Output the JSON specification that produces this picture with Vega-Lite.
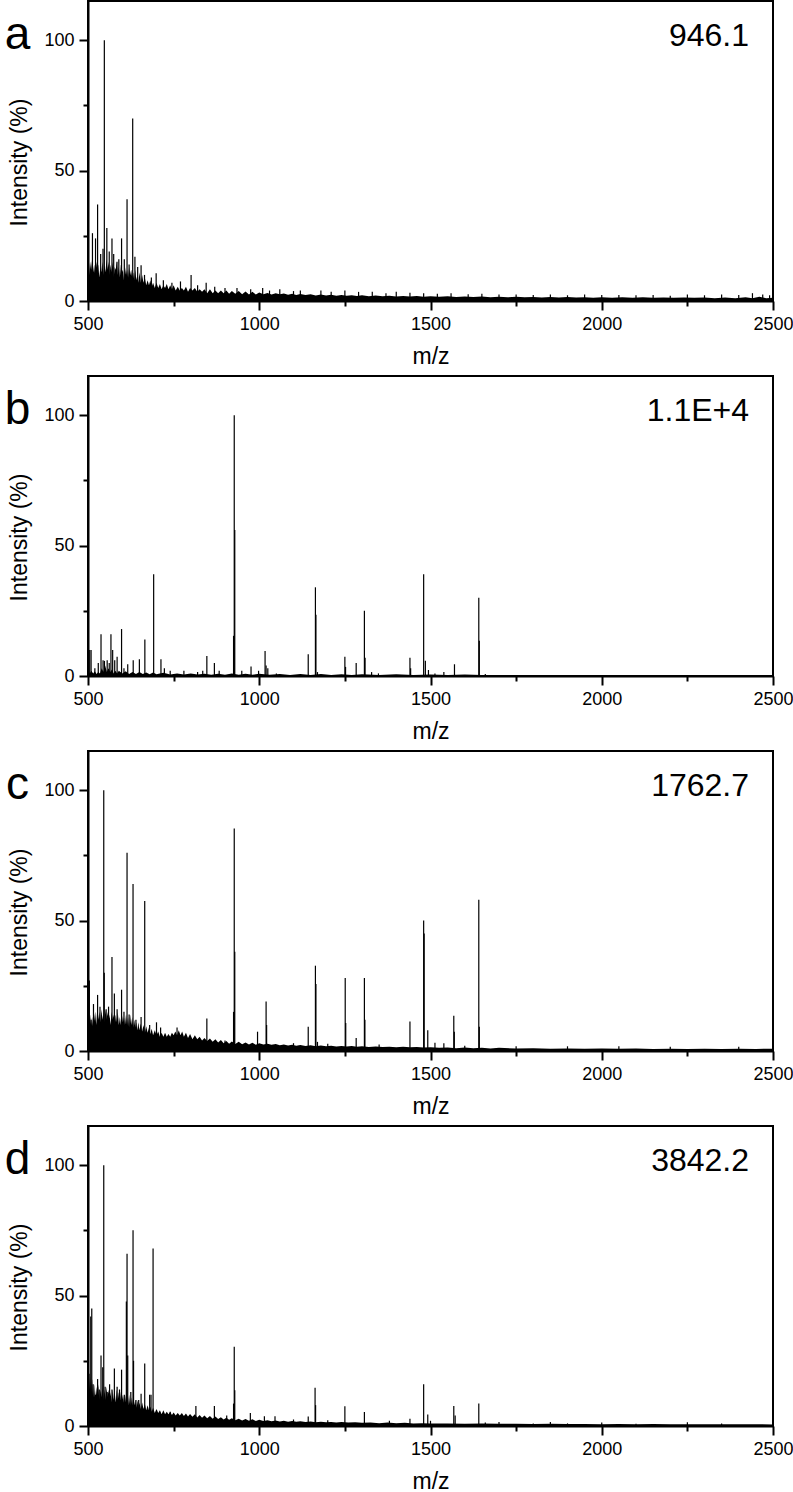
{
"$schema": "https://vega.github.io/schema/vega-lite/v6.json",
"padding": {"left": 3, "top": 0, "right": 0, "bottom": 0},
"background": "white",
"config": {
  "font": "Liberation Sans",
  "view": {"stroke": "black", "strokeWidth": 2},
  "axis": {"domainColor": "black", "domainWidth": 2, "tickColor": "black", "tickWidth": 2, "labelColor": "black", "titleColor": "black", "labelFont": "Liberation Sans", "titleFont": "Liberation Sans", "labelFontSize": 18, "titleFontSize": 23, "titleFontWeight": "normal", "grid": false, "labelPadding": 5},
  "facet": {"spacing": 6}
},
"data": {"values": [
{"p":"a","t":"l","x":294,"y":96.5,"s":"a"},{"p":"b","t":"l","x":294,"y":96.5,"s":"b"},{"p":"c","t":"l","x":294,"y":96.5,"s":"c"},{"p":"d","t":"l","x":294,"y":96.5,"s":"d"},
{"p":"a","t":"v","x":2430,"y":97.7,"s":"946.1"},{"p":"b","t":"v","x":2430,"y":97.7,"s":"1.1E+4"},{"p":"c","t":"v","x":2430,"y":97.7,"s":"1762.7"},{"p":"d","t":"v","x":2430,"y":97.7,"s":"3842.2"},
{"p":"a","t":"p","x":513,"y":26},{"p":"a","t":"p","x":522,"y":24},{"p":"a","t":"p","x":528,"y":37},{"p":"a","t":"p","x":537,"y":18},{"p":"a","t":"p","x":543.8,"y":20},{"p":"a","t":"p","x":547.7,"y":100},{"p":"a","t":"p","x":555,"y":28},{"p":"a","t":"p","x":562,"y":19},{"p":"a","t":"p","x":570,"y":24},{"p":"a","t":"p","x":575,"y":18},{"p":"a","t":"p","x":584.7,"y":15},{"p":"a","t":"p","x":590,"y":16},{"p":"a","t":"p","x":598,"y":24},{"p":"a","t":"p","x":606,"y":16},{"p":"a","t":"p","x":614,"y":39},{"p":"a","t":"p","x":620,"y":14},{"p":"a","t":"p","x":630.5,"y":70},{"p":"a","t":"p","x":637,"y":17},{"p":"a","t":"p","x":645,"y":13},{"p":"a","t":"p","x":655,"y":13.7},{"p":"a","t":"p","x":665,"y":10},{"p":"a","t":"p","x":685,"y":9},{"p":"a","t":"p","x":699,"y":10.6},{"p":"a","t":"p","x":720,"y":8},{"p":"a","t":"p","x":745,"y":7},{"p":"a","t":"p","x":770,"y":7.5},{"p":"a","t":"p","x":801,"y":10},{"p":"a","t":"p","x":820,"y":6},{"p":"a","t":"p","x":845,"y":7},{"p":"a","t":"p","x":870,"y":5.5},{"p":"a","t":"p","x":900,"y":5},{"p":"a","t":"p","x":935,"y":5},{"p":"a","t":"p","x":975,"y":4.5},{"p":"a","t":"p","x":1010,"y":5},{"p":"a","t":"p","x":1030,"y":4},{"p":"a","t":"p","x":1060,"y":4.5},{"p":"a","t":"p","x":1100,"y":3.8},{"p":"a","t":"p","x":1120,"y":4},{"p":"a","t":"p","x":1180,"y":4},{"p":"a","t":"p","x":1210,"y":3.5},{"p":"a","t":"p","x":1250,"y":4},{"p":"a","t":"p","x":1290,"y":3.5},{"p":"a","t":"p","x":1330,"y":3.5},{"p":"a","t":"p","x":1370,"y":3},{"p":"a","t":"p","x":1400,"y":3.5},{"p":"a","t":"p","x":1440,"y":3.2},{"p":"a","t":"p","x":1480,"y":3},{"p":"a","t":"p","x":1520,"y":2.8},{"p":"a","t":"p","x":1560,"y":3},{"p":"a","t":"p","x":1610,"y":2.6},{"p":"a","t":"p","x":1650,"y":2.8},{"p":"a","t":"p","x":1700,"y":2.5},{"p":"a","t":"p","x":1750,"y":2.5},{"p":"a","t":"p","x":1800,"y":2.3},{"p":"a","t":"p","x":1850,"y":2.5},{"p":"a","t":"p","x":1900,"y":2.2},{"p":"a","t":"p","x":1950,"y":2.5},{"p":"a","t":"p","x":2000,"y":2.3},{"p":"a","t":"p","x":2050,"y":2.3},{"p":"a","t":"p","x":2100,"y":2.2},{"p":"a","t":"p","x":2150,"y":2.3},{"p":"a","t":"p","x":2200,"y":2},{"p":"a","t":"p","x":2250,"y":2.5},{"p":"a","t":"p","x":2300,"y":2.2},{"p":"a","t":"p","x":2350,"y":2.5},{"p":"a","t":"p","x":2400,"y":2.3},{"p":"a","t":"p","x":2440,"y":3},{"p":"a","t":"p","x":2470,"y":2.5},{"p":"a","t":"p","x":2490,"y":2.2},
{"p":"b","t":"p","x":505,"y":10},{"p":"b","t":"p","x":509,"y":10},{"p":"b","t":"p","x":520,"y":3},{"p":"b","t":"p","x":530,"y":5},{"p":"b","t":"p","x":538,"y":16},{"p":"b","t":"p","x":544,"y":6},{"p":"b","t":"p","x":548,"y":5.8},{"p":"b","t":"p","x":556,"y":6},{"p":"b","t":"p","x":562,"y":5},{"p":"b","t":"p","x":567,"y":16},{"p":"b","t":"p","x":572,"y":10},{"p":"b","t":"p","x":578,"y":6},{"p":"b","t":"p","x":585,"y":7.4},{"p":"b","t":"p","x":598,"y":18},{"p":"b","t":"p","x":605,"y":3},{"p":"b","t":"p","x":616,"y":4.5},{"p":"b","t":"p","x":632,"y":6},{"p":"b","t":"p","x":650,"y":6.4},{"p":"b","t":"p","x":666,"y":14},{"p":"b","t":"p","x":691.7,"y":39},{"p":"b","t":"p","x":713,"y":6.4},{"p":"b","t":"p","x":723,"y":3},{"p":"b","t":"p","x":740,"y":2},{"p":"b","t":"p","x":780,"y":2},{"p":"b","t":"p","x":820,"y":1.5},{"p":"b","t":"p","x":835,"y":2},{"p":"b","t":"p","x":847,"y":7.7},{"p":"b","t":"p","x":869,"y":5},{"p":"b","t":"p","x":883,"y":2},{"p":"b","t":"p","x":925,"y":15.4},{"p":"b","t":"p","x":927,"y":100},{"p":"b","t":"p","x":928.5,"y":56},{"p":"b","t":"p","x":949,"y":2},{"p":"b","t":"p","x":976,"y":3.6},{"p":"b","t":"p","x":998,"y":2},{"p":"b","t":"p","x":1017,"y":9.6},{"p":"b","t":"p","x":1020,"y":4},{"p":"b","t":"p","x":1025,"y":3},{"p":"b","t":"p","x":1050,"y":1},{"p":"b","t":"p","x":1143,"y":8.3},{"p":"b","t":"p","x":1164,"y":34},{"p":"b","t":"p","x":1165.5,"y":23.5},{"p":"b","t":"p","x":1170,"y":1.5},{"p":"b","t":"p","x":1250,"y":7.4},{"p":"b","t":"p","x":1252,"y":3.5},{"p":"b","t":"p","x":1283,"y":5},{"p":"b","t":"p","x":1307,"y":25},{"p":"b","t":"p","x":1309,"y":7},{"p":"b","t":"p","x":1328,"y":1.5},{"p":"b","t":"p","x":1348,"y":1},{"p":"b","t":"p","x":1440,"y":7},{"p":"b","t":"p","x":1442,"y":3},{"p":"b","t":"p","x":1480,"y":39},{"p":"b","t":"p","x":1485,"y":5.8},{"p":"b","t":"p","x":1494,"y":2.3},{"p":"b","t":"p","x":1513,"y":1},{"p":"b","t":"p","x":1539,"y":1.5},{"p":"b","t":"p","x":1570,"y":4.5},{"p":"b","t":"p","x":1641,"y":30},{"p":"b","t":"p","x":1642.5,"y":13.5},{"p":"b","t":"p","x":1660,"y":0.8},
{"p":"c","t":"p","x":504,"y":27},{"p":"c","t":"p","x":509,"y":12},{"p":"c","t":"p","x":516,"y":18},{"p":"c","t":"p","x":528,"y":21.5},{"p":"c","t":"p","x":535,"y":17},{"p":"c","t":"p","x":546,"y":100},{"p":"c","t":"p","x":547.5,"y":30},{"p":"c","t":"p","x":553,"y":16},{"p":"c","t":"p","x":560,"y":17},{"p":"c","t":"p","x":570,"y":36},{"p":"c","t":"p","x":577,"y":22},{"p":"c","t":"p","x":585,"y":16},{"p":"c","t":"p","x":598,"y":23.5},{"p":"c","t":"p","x":605,"y":15},{"p":"c","t":"p","x":614,"y":76},{"p":"c","t":"p","x":620,"y":14},{"p":"c","t":"p","x":631.5,"y":64},{"p":"c","t":"p","x":640,"y":12},{"p":"c","t":"p","x":655,"y":13},{"p":"c","t":"p","x":665.6,"y":57.5},{"p":"c","t":"p","x":680,"y":10},{"p":"c","t":"p","x":700,"y":11},{"p":"c","t":"p","x":712,"y":9},{"p":"c","t":"p","x":760,"y":9},{"p":"c","t":"p","x":847,"y":12.5},{"p":"c","t":"p","x":900,"y":4},{"p":"c","t":"p","x":925,"y":15},{"p":"c","t":"p","x":927,"y":85.3},{"p":"c","t":"p","x":928.5,"y":38},{"p":"c","t":"p","x":995,"y":7.4},{"p":"c","t":"p","x":1020,"y":19},{"p":"c","t":"p","x":1021.5,"y":10},{"p":"c","t":"p","x":1100,"y":3},{"p":"c","t":"p","x":1143,"y":9.3},{"p":"c","t":"p","x":1164,"y":32.7},{"p":"c","t":"p","x":1165.5,"y":25.7},{"p":"c","t":"p","x":1170,"y":3.5},{"p":"c","t":"p","x":1200,"y":2.8},{"p":"c","t":"p","x":1251,"y":28},{"p":"c","t":"p","x":1252.5,"y":10.7},{"p":"c","t":"p","x":1283,"y":5},{"p":"c","t":"p","x":1307,"y":28},{"p":"c","t":"p","x":1308.5,"y":12},{"p":"c","t":"p","x":1350,"y":2.5},{"p":"c","t":"p","x":1440,"y":11.3},{"p":"c","t":"p","x":1480,"y":50},{"p":"c","t":"p","x":1481.5,"y":45},{"p":"c","t":"p","x":1492,"y":8},{"p":"c","t":"p","x":1513,"y":3.2},{"p":"c","t":"p","x":1539,"y":3},{"p":"c","t":"p","x":1568,"y":13.5},{"p":"c","t":"p","x":1569.5,"y":7.4},{"p":"c","t":"p","x":1600,"y":2},{"p":"c","t":"p","x":1641,"y":58},{"p":"c","t":"p","x":1642.5,"y":9.3},{"p":"c","t":"p","x":1750,"y":1.8},{"p":"c","t":"p","x":1900,"y":1.8},{"p":"c","t":"p","x":2050,"y":1.8},{"p":"c","t":"p","x":2200,"y":1.6},{"p":"c","t":"p","x":2400,"y":1.6},
{"p":"d","t":"p","x":503,"y":20},{"p":"d","t":"p","x":508,"y":42},{"p":"d","t":"p","x":511,"y":45},{"p":"d","t":"p","x":515,"y":16},{"p":"d","t":"p","x":522,"y":12},{"p":"d","t":"p","x":528,"y":18},{"p":"d","t":"p","x":533,"y":14},{"p":"d","t":"p","x":538,"y":27},{"p":"d","t":"p","x":543,"y":22.5},{"p":"d","t":"p","x":546,"y":100},{"p":"d","t":"p","x":550,"y":15},{"p":"d","t":"p","x":556,"y":13},{"p":"d","t":"p","x":563,"y":16},{"p":"d","t":"p","x":570,"y":14},{"p":"d","t":"p","x":577,"y":22},{"p":"d","t":"p","x":585,"y":15},{"p":"d","t":"p","x":592,"y":14},{"p":"d","t":"p","x":598,"y":21.6},{"p":"d","t":"p","x":606,"y":12},{"p":"d","t":"p","x":612,"y":47.7},{"p":"d","t":"p","x":614,"y":66},{"p":"d","t":"p","x":616,"y":27},{"p":"d","t":"p","x":625,"y":13},{"p":"d","t":"p","x":631.5,"y":75},{"p":"d","t":"p","x":633,"y":25},{"p":"d","t":"p","x":640,"y":10},{"p":"d","t":"p","x":648,"y":10},{"p":"d","t":"p","x":655,"y":12.4},{"p":"d","t":"p","x":665.6,"y":24},{"p":"d","t":"p","x":680,"y":12},{"p":"d","t":"p","x":684,"y":12},{"p":"d","t":"p","x":690,"y":68},{"p":"d","t":"p","x":700,"y":6},{"p":"d","t":"p","x":740,"y":5.5},{"p":"d","t":"p","x":815,"y":7.7},{"p":"d","t":"p","x":869,"y":7.7},{"p":"d","t":"p","x":905,"y":4},{"p":"d","t":"p","x":925,"y":8.6},{"p":"d","t":"p","x":927,"y":30.4},{"p":"d","t":"p","x":928.5,"y":13.7},{"p":"d","t":"p","x":974,"y":5},{"p":"d","t":"p","x":1015,"y":3.7},{"p":"d","t":"p","x":1046,"y":3.7},{"p":"d","t":"p","x":1100,"y":2.5},{"p":"d","t":"p","x":1143,"y":3.6},{"p":"d","t":"p","x":1163,"y":14.7},{"p":"d","t":"p","x":1164.5,"y":8},{"p":"d","t":"p","x":1200,"y":2.2},{"p":"d","t":"p","x":1250,"y":7.6},{"p":"d","t":"p","x":1307,"y":5.4},{"p":"d","t":"p","x":1380,"y":2},{"p":"d","t":"p","x":1440,"y":2.8},{"p":"d","t":"p","x":1480,"y":16},{"p":"d","t":"p","x":1492,"y":4.4},{"p":"d","t":"p","x":1500,"y":2},{"p":"d","t":"p","x":1568,"y":7.7},{"p":"d","t":"p","x":1572,"y":4},{"p":"d","t":"p","x":1641,"y":8.6},{"p":"d","t":"p","x":1660,"y":1.3},{"p":"d","t":"p","x":1700,"y":1.5},{"p":"d","t":"p","x":1800,"y":1},{"p":"d","t":"p","x":1850,"y":1.5},{"p":"d","t":"p","x":1900,"y":1},{"p":"d","t":"p","x":2000,"y":1.3},{"p":"d","t":"p","x":2100,"y":0.9},{"p":"d","t":"p","x":2250,"y":1.4},{"p":"d","t":"p","x":2350,"y":1},
{"p":"a","t":"n","x":500,"y":14},{"p":"a","t":"n","x":503,"y":10},{"p":"a","t":"n","x":506,"y":15},{"p":"a","t":"n","x":509,"y":12},{"p":"a","t":"n","x":512,"y":16},{"p":"a","t":"n","x":515,"y":11},{"p":"a","t":"n","x":518,"y":14},{"p":"a","t":"n","x":521,"y":10},{"p":"a","t":"n","x":524,"y":15},{"p":"a","t":"n","x":527,"y":12},{"p":"a","t":"n","x":530,"y":14},{"p":"a","t":"n","x":533,"y":9},{"p":"a","t":"n","x":536,"y":13},{"p":"a","t":"n","x":539,"y":11},{"p":"a","t":"n","x":542,"y":15},{"p":"a","t":"n","x":545,"y":10},{"p":"a","t":"n","x":548,"y":14},{"p":"a","t":"n","x":551,"y":11},{"p":"a","t":"n","x":554,"y":16},{"p":"a","t":"n","x":557,"y":12},{"p":"a","t":"n","x":560,"y":15},{"p":"a","t":"n","x":563,"y":10},{"p":"a","t":"n","x":566,"y":14},{"p":"a","t":"n","x":569,"y":11},{"p":"a","t":"n","x":572,"y":15},{"p":"a","t":"n","x":575,"y":9},{"p":"a","t":"n","x":578,"y":13},{"p":"a","t":"n","x":581,"y":12},{"p":"a","t":"n","x":584,"y":15},{"p":"a","t":"n","x":587,"y":10},{"p":"a","t":"n","x":590,"y":13},{"p":"a","t":"n","x":593,"y":9},{"p":"a","t":"n","x":596,"y":14},{"p":"a","t":"n","x":599,"y":11},{"p":"a","t":"n","x":602,"y":12},{"p":"a","t":"n","x":605,"y":8},{"p":"a","t":"n","x":608,"y":13},{"p":"a","t":"n","x":611,"y":10},{"p":"a","t":"n","x":614,"y":12},{"p":"a","t":"n","x":617,"y":9},{"p":"a","t":"n","x":620,"y":13},{"p":"a","t":"n","x":623,"y":10},{"p":"a","t":"n","x":626,"y":12},{"p":"a","t":"n","x":629,"y":9},{"p":"a","t":"n","x":632,"y":11},{"p":"a","t":"n","x":635,"y":8},{"p":"a","t":"n","x":638,"y":12},{"p":"a","t":"n","x":641,"y":8},{"p":"a","t":"n","x":644,"y":10},{"p":"a","t":"n","x":647,"y":7},{"p":"a","t":"n","x":650,"y":11},{"p":"a","t":"n","x":654,"y":7},{"p":"a","t":"n","x":658,"y":10},{"p":"a","t":"n","x":662,"y":7},{"p":"a","t":"n","x":666,"y":9},{"p":"a","t":"n","x":670,"y":6},{"p":"a","t":"n","x":674,"y":8},{"p":"a","t":"n","x":678,"y":6},{"p":"a","t":"n","x":682,"y":8},{"p":"a","t":"n","x":686,"y":5.5},{"p":"a","t":"n","x":690,"y":7},{"p":"a","t":"n","x":695,"y":5},{"p":"a","t":"n","x":700,"y":7},{"p":"a","t":"n","x":705,"y":5},{"p":"a","t":"n","x":710,"y":6.5},{"p":"a","t":"n","x":715,"y":4.5},{"p":"a","t":"n","x":720,"y":6},{"p":"a","t":"n","x":725,"y":5},{"p":"a","t":"n","x":730,"y":6.5},{"p":"a","t":"n","x":735,"y":4.5},{"p":"a","t":"n","x":740,"y":6},{"p":"a","t":"n","x":745,"y":4.5},{"p":"a","t":"n","x":750,"y":6},{"p":"a","t":"n","x":756,"y":4},{"p":"a","t":"n","x":762,"y":5.5},{"p":"a","t":"n","x":768,"y":4},{"p":"a","t":"n","x":774,"y":5},{"p":"a","t":"n","x":780,"y":4},{"p":"a","t":"n","x":786,"y":5.5},{"p":"a","t":"n","x":792,"y":3.5},{"p":"a","t":"n","x":798,"y":5},{"p":"a","t":"n","x":805,"y":4},{"p":"a","t":"n","x":812,"y":5},{"p":"a","t":"n","x":819,"y":3.5},{"p":"a","t":"n","x":826,"y":4.5},{"p":"a","t":"n","x":833,"y":3.5},{"p":"a","t":"n","x":840,"y":4.5},{"p":"a","t":"n","x":848,"y":3},{"p":"a","t":"n","x":856,"y":4.5},{"p":"a","t":"n","x":864,"y":3},{"p":"a","t":"n","x":872,"y":4},{"p":"a","t":"n","x":880,"y":3},{"p":"a","t":"n","x":888,"y":4},{"p":"a","t":"n","x":896,"y":3},{"p":"a","t":"n","x":904,"y":4},{"p":"a","t":"n","x":912,"y":2.8},{"p":"a","t":"n","x":920,"y":3.8},{"p":"a","t":"n","x":930,"y":2.8},{"p":"a","t":"n","x":940,"y":3.8},{"p":"a","t":"n","x":950,"y":2.6},{"p":"a","t":"n","x":960,"y":3.6},{"p":"a","t":"n","x":970,"y":2.5},{"p":"a","t":"n","x":980,"y":3.5},{"p":"a","t":"n","x":990,"y":2.5},
{"p":"a","t":"n","x":1000,"y":3.3},{"p":"a","t":"n","x":1012,"y":2.6},{"p":"a","t":"n","x":1024,"y":3.1},{"p":"a","t":"n","x":1036,"y":2.5},{"p":"a","t":"n","x":1048,"y":3},{"p":"a","t":"n","x":1060,"y":2.6},{"p":"a","t":"n","x":1072,"y":2.9},{"p":"a","t":"n","x":1084,"y":2.4},{"p":"a","t":"n","x":1096,"y":2.8},{"p":"a","t":"n","x":1108,"y":2.3},{"p":"a","t":"n","x":1120,"y":2.7},{"p":"a","t":"n","x":1135,"y":2.3},{"p":"a","t":"n","x":1150,"y":2.6},{"p":"a","t":"n","x":1165,"y":2.1},{"p":"a","t":"n","x":1180,"y":2.5},{"p":"a","t":"n","x":1195,"y":2.1},{"p":"a","t":"n","x":1210,"y":2.4},{"p":"a","t":"n","x":1225,"y":2},{"p":"a","t":"n","x":1240,"y":2.3},{"p":"a","t":"n","x":1255,"y":2},{"p":"a","t":"n","x":1270,"y":2.2},{"p":"a","t":"n","x":1285,"y":1.9},{"p":"a","t":"n","x":1300,"y":2.2},{"p":"a","t":"n","x":1320,"y":1.8},{"p":"a","t":"n","x":1340,"y":2.1},{"p":"a","t":"n","x":1360,"y":1.8},{"p":"a","t":"n","x":1380,"y":2},{"p":"a","t":"n","x":1400,"y":1.7},{"p":"a","t":"n","x":1420,"y":1.9},{"p":"a","t":"n","x":1440,"y":1.7},{"p":"a","t":"n","x":1460,"y":1.9},{"p":"a","t":"n","x":1480,"y":1.6},{"p":"a","t":"n","x":1500,"y":1.8},{"p":"a","t":"n","x":1525,"y":1.6},{"p":"a","t":"n","x":1550,"y":1.8},{"p":"a","t":"n","x":1575,"y":1.5},{"p":"a","t":"n","x":1600,"y":1.7},{"p":"a","t":"n","x":1625,"y":1.5},{"p":"a","t":"n","x":1650,"y":1.7},{"p":"a","t":"n","x":1675,"y":1.4},{"p":"a","t":"n","x":1700,"y":1.6},{"p":"a","t":"n","x":1725,"y":1.4},{"p":"a","t":"n","x":1750,"y":1.6},{"p":"a","t":"n","x":1775,"y":1.4},{"p":"a","t":"n","x":1800,"y":1.5},{"p":"a","t":"n","x":1825,"y":1.3},{"p":"a","t":"n","x":1850,"y":1.5},{"p":"a","t":"n","x":1875,"y":1.3},{"p":"a","t":"n","x":1900,"y":1.5},{"p":"a","t":"n","x":1925,"y":1.3},{"p":"a","t":"n","x":1950,"y":1.4},{"p":"a","t":"n","x":1975,"y":1.2},{"p":"a","t":"n","x":2000,"y":1.4},{"p":"a","t":"n","x":2030,"y":1.2},{"p":"a","t":"n","x":2060,"y":1.4},{"p":"a","t":"n","x":2090,"y":1.2},{"p":"a","t":"n","x":2120,"y":1.4},{"p":"a","t":"n","x":2150,"y":1.2},{"p":"a","t":"n","x":2180,"y":1.3},{"p":"a","t":"n","x":2210,"y":1.2},{"p":"a","t":"n","x":2240,"y":1.3},{"p":"a","t":"n","x":2270,"y":1.2},{"p":"a","t":"n","x":2300,"y":1.3},{"p":"a","t":"n","x":2330,"y":1.1},{"p":"a","t":"n","x":2360,"y":1.3},{"p":"a","t":"n","x":2390,"y":1.1},{"p":"a","t":"n","x":2420,"y":1.4},{"p":"a","t":"n","x":2440,"y":1.1},{"p":"a","t":"n","x":2460,"y":1.6},{"p":"a","t":"n","x":2480,"y":1.1},{"p":"a","t":"n","x":2500,"y":1.2},
{"p":"b","t":"n","x":500,"y":2},{"p":"b","t":"n","x":505,"y":1},{"p":"b","t":"n","x":510,"y":2},{"p":"b","t":"n","x":515,"y":1},{"p":"b","t":"n","x":520,"y":1.8},{"p":"b","t":"n","x":525,"y":0.8},{"p":"b","t":"n","x":530,"y":1.5},{"p":"b","t":"n","x":535,"y":1},{"p":"b","t":"n","x":540,"y":3},{"p":"b","t":"n","x":545,"y":1.5},{"p":"b","t":"n","x":550,"y":4},{"p":"b","t":"n","x":555,"y":1.5},{"p":"b","t":"n","x":560,"y":3},{"p":"b","t":"n","x":565,"y":1.5},{"p":"b","t":"n","x":570,"y":2.5},{"p":"b","t":"n","x":575,"y":1},{"p":"b","t":"n","x":580,"y":2},{"p":"b","t":"n","x":585,"y":1},{"p":"b","t":"n","x":590,"y":2},{"p":"b","t":"n","x":600,"y":1},{"p":"b","t":"n","x":610,"y":1.8},{"p":"b","t":"n","x":620,"y":0.8},{"p":"b","t":"n","x":630,"y":1.5},{"p":"b","t":"n","x":640,"y":0.8},{"p":"b","t":"n","x":650,"y":1.5},{"p":"b","t":"n","x":660,"y":0.8},{"p":"b","t":"n","x":670,"y":1.3},{"p":"b","t":"n","x":680,"y":0.7},{"p":"b","t":"n","x":690,"y":1.3},{"p":"b","t":"n","x":700,"y":0.7},{"p":"b","t":"n","x":720,"y":1.2},{"p":"b","t":"n","x":740,"y":0.6},{"p":"b","t":"n","x":760,"y":1},{"p":"b","t":"n","x":780,"y":0.6},{"p":"b","t":"n","x":800,"y":1},{"p":"b","t":"n","x":820,"y":0.6},{"p":"b","t":"n","x":840,"y":0.9},{"p":"b","t":"n","x":860,"y":0.5},{"p":"b","t":"n","x":880,"y":0.9},{"p":"b","t":"n","x":900,"y":0.5},{"p":"b","t":"n","x":920,"y":1},{"p":"b","t":"n","x":940,"y":0.5},{"p":"b","t":"n","x":960,"y":0.9},{"p":"b","t":"n","x":980,"y":0.5},{"p":"b","t":"n","x":1000,"y":0.9},{"p":"b","t":"n","x":1030,"y":0.5},{"p":"b","t":"n","x":1060,"y":0.8},{"p":"b","t":"n","x":1090,"y":0.4},{"p":"b","t":"n","x":1120,"y":0.8},{"p":"b","t":"n","x":1150,"y":0.4},{"p":"b","t":"n","x":1180,"y":0.8},{"p":"b","t":"n","x":1210,"y":0.4},{"p":"b","t":"n","x":1240,"y":0.7},{"p":"b","t":"n","x":1270,"y":0.4},{"p":"b","t":"n","x":1300,"y":0.7},{"p":"b","t":"n","x":1350,"y":0.4},{"p":"b","t":"n","x":1400,"y":0.7},{"p":"b","t":"n","x":1450,"y":0.4},{"p":"b","t":"n","x":1500,"y":0.6},{"p":"b","t":"n","x":1550,"y":0.4},{"p":"b","t":"n","x":1600,"y":0.6},{"p":"b","t":"n","x":1650,"y":0.4},{"p":"b","t":"n","x":1700,"y":0.4},{"p":"b","t":"n","x":1800,"y":0.3},{"p":"b","t":"n","x":1900,"y":0.3},{"p":"b","t":"n","x":2000,"y":0.3},{"p":"b","t":"n","x":2100,"y":0.3},{"p":"b","t":"n","x":2200,"y":0.3},{"p":"b","t":"n","x":2300,"y":0.3},{"p":"b","t":"n","x":2400,"y":0.3},{"p":"b","t":"n","x":2500,"y":0.3},
{"p":"c","t":"n","x":500,"y":16},{"p":"c","t":"n","x":503,"y":11},{"p":"c","t":"n","x":506,"y":14},{"p":"c","t":"n","x":509,"y":10},{"p":"c","t":"n","x":512,"y":13},{"p":"c","t":"n","x":515,"y":9},{"p":"c","t":"n","x":518,"y":12},{"p":"c","t":"n","x":521,"y":15},{"p":"c","t":"n","x":524,"y":10},{"p":"c","t":"n","x":527,"y":16},{"p":"c","t":"n","x":530,"y":12},{"p":"c","t":"n","x":533,"y":15},{"p":"c","t":"n","x":536,"y":11},{"p":"c","t":"n","x":539,"y":16},{"p":"c","t":"n","x":542,"y":12},{"p":"c","t":"n","x":545,"y":15},{"p":"c","t":"n","x":548,"y":11},{"p":"c","t":"n","x":551,"y":16},{"p":"c","t":"n","x":554,"y":12},{"p":"c","t":"n","x":557,"y":15},{"p":"c","t":"n","x":560,"y":11},{"p":"c","t":"n","x":563,"y":14},{"p":"c","t":"n","x":566,"y":10},{"p":"c","t":"n","x":569,"y":15},{"p":"c","t":"n","x":572,"y":12},{"p":"c","t":"n","x":575,"y":14},{"p":"c","t":"n","x":578,"y":10},{"p":"c","t":"n","x":581,"y":14},{"p":"c","t":"n","x":584,"y":11},{"p":"c","t":"n","x":587,"y":15},{"p":"c","t":"n","x":590,"y":10},{"p":"c","t":"n","x":593,"y":13},{"p":"c","t":"n","x":596,"y":10},{"p":"c","t":"n","x":599,"y":14},{"p":"c","t":"n","x":602,"y":11},{"p":"c","t":"n","x":605,"y":13},{"p":"c","t":"n","x":608,"y":10},{"p":"c","t":"n","x":611,"y":14},{"p":"c","t":"n","x":614,"y":10},{"p":"c","t":"n","x":617,"y":13},{"p":"c","t":"n","x":620,"y":9},{"p":"c","t":"n","x":623,"y":14},{"p":"c","t":"n","x":626,"y":10},{"p":"c","t":"n","x":629,"y":13},{"p":"c","t":"n","x":632,"y":9},{"p":"c","t":"n","x":635,"y":12},{"p":"c","t":"n","x":638,"y":9},{"p":"c","t":"n","x":641,"y":11},{"p":"c","t":"n","x":644,"y":8},{"p":"c","t":"n","x":647,"y":11},{"p":"c","t":"n","x":650,"y":8},{"p":"c","t":"n","x":654,"y":10.5},{"p":"c","t":"n","x":658,"y":7.5},{"p":"c","t":"n","x":662,"y":10},{"p":"c","t":"n","x":666,"y":7},{"p":"c","t":"n","x":670,"y":9.5},{"p":"c","t":"n","x":674,"y":7},{"p":"c","t":"n","x":678,"y":9},{"p":"c","t":"n","x":682,"y":6.5},{"p":"c","t":"n","x":686,"y":8.5},{"p":"c","t":"n","x":690,"y":6},{"p":"c","t":"n","x":695,"y":8},{"p":"c","t":"n","x":700,"y":6},{"p":"c","t":"n","x":705,"y":7.5},{"p":"c","t":"n","x":710,"y":5.5},{"p":"c","t":"n","x":715,"y":7},{"p":"c","t":"n","x":720,"y":5.5},{"p":"c","t":"n","x":725,"y":7},{"p":"c","t":"n","x":730,"y":5.5},{"p":"c","t":"n","x":735,"y":6.5},{"p":"c","t":"n","x":740,"y":5.5},{"p":"c","t":"n","x":745,"y":7},{"p":"c","t":"n","x":750,"y":6},{"p":"c","t":"n","x":755,"y":7.5},{"p":"c","t":"n","x":760,"y":6},{"p":"c","t":"n","x":765,"y":8},{"p":"c","t":"n","x":770,"y":6},{"p":"c","t":"n","x":775,"y":7.5},{"p":"c","t":"n","x":780,"y":5.5},{"p":"c","t":"n","x":786,"y":7},{"p":"c","t":"n","x":792,"y":5},{"p":"c","t":"n","x":798,"y":6.5},{"p":"c","t":"n","x":805,"y":4.5},{"p":"c","t":"n","x":812,"y":6},{"p":"c","t":"n","x":819,"y":4.5},{"p":"c","t":"n","x":826,"y":5.5},{"p":"c","t":"n","x":833,"y":4},{"p":"c","t":"n","x":840,"y":5},{"p":"c","t":"n","x":848,"y":3.8},{"p":"c","t":"n","x":856,"y":4.8},{"p":"c","t":"n","x":864,"y":3.5},{"p":"c","t":"n","x":872,"y":4.5},{"p":"c","t":"n","x":880,"y":3.3},{"p":"c","t":"n","x":888,"y":4.2},{"p":"c","t":"n","x":896,"y":3},{"p":"c","t":"n","x":904,"y":3.8},{"p":"c","t":"n","x":912,"y":2.8},{"p":"c","t":"n","x":920,"y":3.6},{"p":"c","t":"n","x":930,"y":2.7},{"p":"c","t":"n","x":940,"y":3.5},{"p":"c","t":"n","x":950,"y":2.6},{"p":"c","t":"n","x":960,"y":3.3},{"p":"c","t":"n","x":970,"y":2.5},{"p":"c","t":"n","x":980,"y":3.2},{"p":"c","t":"n","x":990,"y":2.4},
{"p":"c","t":"n","x":1000,"y":3},{"p":"c","t":"n","x":1012,"y":2.5},{"p":"c","t":"n","x":1024,"y":2.8},{"p":"c","t":"n","x":1036,"y":2.4},{"p":"c","t":"n","x":1048,"y":2.7},{"p":"c","t":"n","x":1060,"y":2.2},{"p":"c","t":"n","x":1072,"y":2.5},{"p":"c","t":"n","x":1084,"y":2.1},{"p":"c","t":"n","x":1096,"y":2.4},{"p":"c","t":"n","x":1108,"y":2},{"p":"c","t":"n","x":1120,"y":2.3},{"p":"c","t":"n","x":1135,"y":1.9},{"p":"c","t":"n","x":1150,"y":2.2},{"p":"c","t":"n","x":1165,"y":1.8},{"p":"c","t":"n","x":1180,"y":2.1},{"p":"c","t":"n","x":1195,"y":1.8},{"p":"c","t":"n","x":1210,"y":2},{"p":"c","t":"n","x":1225,"y":1.7},{"p":"c","t":"n","x":1240,"y":1.9},{"p":"c","t":"n","x":1255,"y":1.7},{"p":"c","t":"n","x":1270,"y":1.9},{"p":"c","t":"n","x":1285,"y":1.6},{"p":"c","t":"n","x":1300,"y":1.8},{"p":"c","t":"n","x":1320,"y":1.5},{"p":"c","t":"n","x":1340,"y":1.7},{"p":"c","t":"n","x":1360,"y":1.5},{"p":"c","t":"n","x":1380,"y":1.6},{"p":"c","t":"n","x":1400,"y":1.4},{"p":"c","t":"n","x":1420,"y":1.6},{"p":"c","t":"n","x":1440,"y":1.4},{"p":"c","t":"n","x":1460,"y":1.5},{"p":"c","t":"n","x":1480,"y":1.3},{"p":"c","t":"n","x":1500,"y":1.4},{"p":"c","t":"n","x":1525,"y":1.2},{"p":"c","t":"n","x":1550,"y":1.3},{"p":"c","t":"n","x":1575,"y":1.1},{"p":"c","t":"n","x":1600,"y":1.3},{"p":"c","t":"n","x":1625,"y":1.1},{"p":"c","t":"n","x":1650,"y":1.2},{"p":"c","t":"n","x":1675,"y":1},{"p":"c","t":"n","x":1700,"y":1.2},{"p":"c","t":"n","x":1750,"y":1},{"p":"c","t":"n","x":1800,"y":1.1},{"p":"c","t":"n","x":1850,"y":0.9},{"p":"c","t":"n","x":1900,"y":1},{"p":"c","t":"n","x":1950,"y":0.9},{"p":"c","t":"n","x":2000,"y":1},{"p":"c","t":"n","x":2050,"y":0.9},{"p":"c","t":"n","x":2100,"y":1},{"p":"c","t":"n","x":2150,"y":0.8},{"p":"c","t":"n","x":2200,"y":0.9},{"p":"c","t":"n","x":2250,"y":0.8},{"p":"c","t":"n","x":2300,"y":0.9},{"p":"c","t":"n","x":2350,"y":0.8},{"p":"c","t":"n","x":2400,"y":0.9},{"p":"c","t":"n","x":2450,"y":0.8},{"p":"c","t":"n","x":2500,"y":0.9},
{"p":"d","t":"n","x":500,"y":20},{"p":"d","t":"n","x":503,"y":14},{"p":"d","t":"n","x":506,"y":19},{"p":"d","t":"n","x":509,"y":13},{"p":"d","t":"n","x":512,"y":18},{"p":"d","t":"n","x":515,"y":11},{"p":"d","t":"n","x":518,"y":16},{"p":"d","t":"n","x":521,"y":10},{"p":"d","t":"n","x":524,"y":15},{"p":"d","t":"n","x":527,"y":11},{"p":"d","t":"n","x":530,"y":16},{"p":"d","t":"n","x":533,"y":10},{"p":"d","t":"n","x":536,"y":14},{"p":"d","t":"n","x":539,"y":11},{"p":"d","t":"n","x":542,"y":15},{"p":"d","t":"n","x":545,"y":10},{"p":"d","t":"n","x":548,"y":14},{"p":"d","t":"n","x":551,"y":10},{"p":"d","t":"n","x":554,"y":15},{"p":"d","t":"n","x":557,"y":11},{"p":"d","t":"n","x":560,"y":14},{"p":"d","t":"n","x":563,"y":10},{"p":"d","t":"n","x":566,"y":13},{"p":"d","t":"n","x":569,"y":9},{"p":"d","t":"n","x":572,"y":14},{"p":"d","t":"n","x":575,"y":10},{"p":"d","t":"n","x":578,"y":13},{"p":"d","t":"n","x":581,"y":9},{"p":"d","t":"n","x":584,"y":14},{"p":"d","t":"n","x":587,"y":10},{"p":"d","t":"n","x":590,"y":13},{"p":"d","t":"n","x":593,"y":9},{"p":"d","t":"n","x":596,"y":13},{"p":"d","t":"n","x":599,"y":10},{"p":"d","t":"n","x":602,"y":12},{"p":"d","t":"n","x":605,"y":9},{"p":"d","t":"n","x":608,"y":12},{"p":"d","t":"n","x":611,"y":9},{"p":"d","t":"n","x":614,"y":11},{"p":"d","t":"n","x":617,"y":8},{"p":"d","t":"n","x":620,"y":12},{"p":"d","t":"n","x":623,"y":8},{"p":"d","t":"n","x":626,"y":11},{"p":"d","t":"n","x":629,"y":8},{"p":"d","t":"n","x":632,"y":11},{"p":"d","t":"n","x":635,"y":8},{"p":"d","t":"n","x":638,"y":10},{"p":"d","t":"n","x":641,"y":7},{"p":"d","t":"n","x":644,"y":10},{"p":"d","t":"n","x":647,"y":7},{"p":"d","t":"n","x":650,"y":9},{"p":"d","t":"n","x":654,"y":6.5},{"p":"d","t":"n","x":658,"y":9},{"p":"d","t":"n","x":662,"y":6.5},{"p":"d","t":"n","x":666,"y":8.5},{"p":"d","t":"n","x":670,"y":6},{"p":"d","t":"n","x":674,"y":8},{"p":"d","t":"n","x":678,"y":6},{"p":"d","t":"n","x":682,"y":7.5},{"p":"d","t":"n","x":686,"y":5.5},{"p":"d","t":"n","x":690,"y":7},{"p":"d","t":"n","x":695,"y":5},{"p":"d","t":"n","x":700,"y":6.5},{"p":"d","t":"n","x":705,"y":5},{"p":"d","t":"n","x":710,"y":6},{"p":"d","t":"n","x":715,"y":4.5},{"p":"d","t":"n","x":720,"y":6},{"p":"d","t":"n","x":725,"y":4.5},{"p":"d","t":"n","x":730,"y":5.5},{"p":"d","t":"n","x":735,"y":4.5},{"p":"d","t":"n","x":740,"y":5.5},{"p":"d","t":"n","x":745,"y":4.2},{"p":"d","t":"n","x":750,"y":5.2},{"p":"d","t":"n","x":756,"y":4},{"p":"d","t":"n","x":762,"y":5},{"p":"d","t":"n","x":768,"y":4},{"p":"d","t":"n","x":774,"y":5},{"p":"d","t":"n","x":780,"y":3.8},{"p":"d","t":"n","x":786,"y":4.8},{"p":"d","t":"n","x":792,"y":3.6},{"p":"d","t":"n","x":798,"y":4.6},{"p":"d","t":"n","x":805,"y":3.5},{"p":"d","t":"n","x":812,"y":4.5},{"p":"d","t":"n","x":819,"y":3.3},{"p":"d","t":"n","x":826,"y":4.2},{"p":"d","t":"n","x":833,"y":3.2},{"p":"d","t":"n","x":840,"y":4},{"p":"d","t":"n","x":848,"y":3},{"p":"d","t":"n","x":856,"y":3.8},{"p":"d","t":"n","x":864,"y":2.8},{"p":"d","t":"n","x":872,"y":3.6},{"p":"d","t":"n","x":880,"y":2.7},{"p":"d","t":"n","x":888,"y":3.4},{"p":"d","t":"n","x":896,"y":2.5},{"p":"d","t":"n","x":904,"y":3.2},{"p":"d","t":"n","x":912,"y":2.4},{"p":"d","t":"n","x":920,"y":3},{"p":"d","t":"n","x":930,"y":2.2},{"p":"d","t":"n","x":940,"y":2.8},{"p":"d","t":"n","x":950,"y":2.1},{"p":"d","t":"n","x":960,"y":2.7},{"p":"d","t":"n","x":970,"y":2},{"p":"d","t":"n","x":980,"y":2.6},{"p":"d","t":"n","x":990,"y":1.9},
{"p":"d","t":"n","x":1000,"y":2.4},{"p":"d","t":"n","x":1012,"y":1.9},{"p":"d","t":"n","x":1024,"y":2.2},{"p":"d","t":"n","x":1036,"y":1.8},{"p":"d","t":"n","x":1048,"y":2.1},{"p":"d","t":"n","x":1060,"y":1.7},{"p":"d","t":"n","x":1072,"y":2},{"p":"d","t":"n","x":1084,"y":1.6},{"p":"d","t":"n","x":1096,"y":1.9},{"p":"d","t":"n","x":1108,"y":1.6},{"p":"d","t":"n","x":1120,"y":1.8},{"p":"d","t":"n","x":1135,"y":1.5},{"p":"d","t":"n","x":1150,"y":1.7},{"p":"d","t":"n","x":1165,"y":1.4},{"p":"d","t":"n","x":1180,"y":1.6},{"p":"d","t":"n","x":1195,"y":1.4},{"p":"d","t":"n","x":1210,"y":1.5},{"p":"d","t":"n","x":1225,"y":1.3},{"p":"d","t":"n","x":1240,"y":1.5},{"p":"d","t":"n","x":1260,"y":1.3},{"p":"d","t":"n","x":1280,"y":1.4},{"p":"d","t":"n","x":1300,"y":1.2},{"p":"d","t":"n","x":1325,"y":1.3},{"p":"d","t":"n","x":1350,"y":1.1},{"p":"d","t":"n","x":1375,"y":1.3},{"p":"d","t":"n","x":1400,"y":1.1},{"p":"d","t":"n","x":1425,"y":1.2},{"p":"d","t":"n","x":1450,"y":1},{"p":"d","t":"n","x":1475,"y":1.1},{"p":"d","t":"n","x":1500,"y":1},{"p":"d","t":"n","x":1550,"y":1},{"p":"d","t":"n","x":1600,"y":0.9},{"p":"d","t":"n","x":1650,"y":1},{"p":"d","t":"n","x":1700,"y":0.9},{"p":"d","t":"n","x":1750,"y":0.9},{"p":"d","t":"n","x":1800,"y":0.8},{"p":"d","t":"n","x":1850,"y":0.9},{"p":"d","t":"n","x":1900,"y":0.8},{"p":"d","t":"n","x":1950,"y":0.8},{"p":"d","t":"n","x":2000,"y":0.7},{"p":"d","t":"n","x":2050,"y":0.8},{"p":"d","t":"n","x":2100,"y":0.7},{"p":"d","t":"n","x":2150,"y":0.8},{"p":"d","t":"n","x":2200,"y":0.7},{"p":"d","t":"n","x":2250,"y":0.7},{"p":"d","t":"n","x":2300,"y":0.7},{"p":"d","t":"n","x":2350,"y":0.7},{"p":"d","t":"n","x":2400,"y":0.7},{"p":"d","t":"n","x":2450,"y":0.7},{"p":"d","t":"n","x":2500,"y":0.6}
]},
"facet": {"row": {"field": "p", "type": "nominal", "title": null, "header": {"labels": false, "title": null}}},
"resolve": {"axis": {"x": "independent", "y": "independent"}},
"spec": {
  "width": 685,
  "height": 300,
  "encoding": {
    "x": {"field": "x", "type": "quantitative", "scale": {"domain": [500, 2500], "nice": false, "zero": false},
      "axis": {"title": "m/z", "titlePadding": 12, "values": [500, 750, 1000, 1250, 1500, 1750, 2000, 2250, 2500], "labelExpr": "datum.value % 500 === 0 ? datum.label : ''", "labelFlush": false, "labelOverlap": false, "tickSize": {"condition": {"test": "datum.value % 500 === 0", "value": 9}, "value": 5}, "format": "d"}},
    "y": {"field": "y", "type": "quantitative", "scale": {"domain": [0, 115], "nice": false},
      "axis": {"title": "Intensity (%)", "titlePadding": 12, "titleY": 161, "values": [0, 25, 50, 75, 100], "labelExpr": "datum.value % 50 === 0 ? datum.label : ''", "labelFlush": false, "labelOverlap": false, "tickSize": {"condition": {"test": "datum.value % 50 === 0", "value": 9}, "value": 5}}}
  },
  "layer": [
    {"transform": [{"filter": "datum.t === 'n'"}], "mark": {"type": "area", "color": "black", "interpolate": "linear"}},
    {"transform": [{"filter": "datum.t === 'p'"}], "mark": {"type": "rule", "color": "black", "strokeWidth": 1.2}, "encoding": {"y2": {"datum": 0}}},
    {"transform": [{"filter": "datum.t === 'l'"}], "mark": {"type": "text", "fontSize": 46, "align": "center", "baseline": "alphabetic", "color": "black"}, "encoding": {"text": {"field": "s"}}},
    {"transform": [{"filter": "datum.t === 'v'"}], "mark": {"type": "text", "fontSize": 32, "align": "right", "baseline": "alphabetic", "color": "black"}, "encoding": {"text": {"field": "s"}}}
  ]
}
}
